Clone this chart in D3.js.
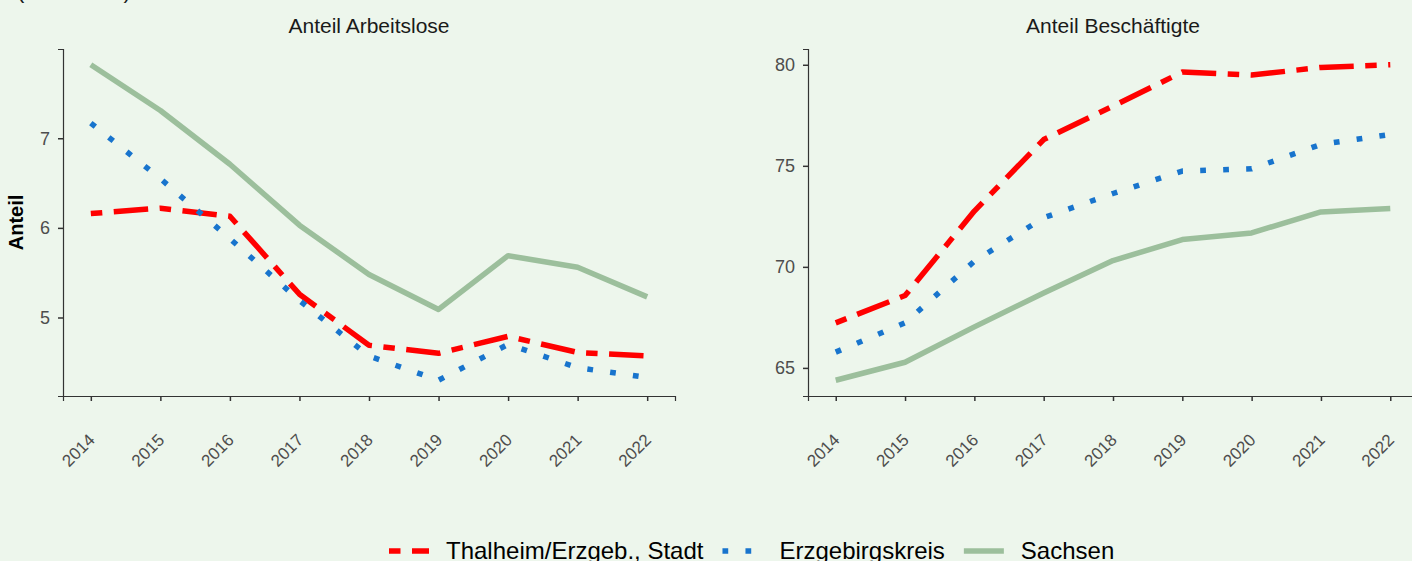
<!DOCTYPE html>
<meta charset="utf-8">
<html>
<head>
<title>Anteil Arbeitslose / Beschäftigte</title>
<script src="https://cdn.jsdelivr.net/npm/d3@7"></script>
<style>
  body { margin: 0; background: #edf6ec; }
  svg { display: block; }
  text { font-family: "Liberation Sans", Arial, Helvetica, sans-serif; }
</style>
</head>
<body>
<script>
// data
var years = [2014, 2015, 2016, 2017, 2018, 2019, 2020, 2021, 2022]
var seriesNames = ["Thalheim/Erzgeb., Stadt", "Erzgebirgskreis", "Sachsen"]

var alThalheim = [6.16, 6.22, 6.13, 5.26, 4.69, 4.60, 4.79, 4.61, 4.57]
var alKreis    = [7.17, 6.55, 5.88, 5.19, 4.57, 4.30, 4.70, 4.44, 4.33]
var alSachsen  = [7.82, 7.31, 6.71, 6.03, 5.48, 5.09, 5.69, 5.56, 5.23]

var bsThalheim = [67.23, 68.58, 72.76, 76.30, 77.95, 79.64, 79.49, 79.87, 80.00]
var bsKreis    = [65.78, 67.23, 70.28, 72.43, 73.63, 74.74, 74.85, 76.06, 76.55]
var bsSachsen  = [64.39, 65.28, 67.03, 68.71, 70.31, 71.35, 71.68, 72.72, 72.89]

var leftTicks = [5, 6, 7]
var rightTicks = [65, 70, 75, 80]

var colors = ["#ff0000", "#1874cd", "#9cbf9c"]
// twodash / dotted / solid
var dashes = ["11.5 11.5 34.5 11.5", "5.75 17.25", null]

var W = 1412, H = 561
var svg = d3.select("body").append("svg").attr("width", W).attr("height", H)
svg.append("rect").attr("width", W).attr("height", H).attr("fill", "#edf6ec")

// cut-off caption at the very top
svg.append("text").attr("x", 17).attr("y", -2)
    .attr("font-size", "22px").attr("fill", "#1a1a1a")
    .text("(in Prozent)")

var yBottom = 396, yTop = 49

function panel(x0, x1, title, sets, ticks){
    var x = d3.scaleLinear().domain([2013.6, 2022.4]).range([x0, x1])
    var all = [].concat.apply([], sets)
    var ext = d3.extent(all), pad = (ext[1] - ext[0]) * 0.05
    var y = d3.scaleLinear().domain([ext[0] - pad, ext[1] + pad]).range([yBottom, yTop])

    var g = svg.append("g")
    g.append("text").attr("x", (x0 + x1) / 2).attr("y", 33)
        .attr("text-anchor", "middle").attr("font-size", "21px").attr("fill", "#1a1a1a")
        .text(title)

    var line = d3.line().x((d, i) => x(years[i])).y(d => y(d))
    sets.forEach((s, k) => {
        g.append("path").attr("d", line(s))
            .attr("fill", "none")
            .attr("stroke", colors[k])
            .attr("stroke-width", 5.5)
            .attr("stroke-dasharray", dashes[k])
            .attr("stroke-linejoin", "round")
            .attr("stroke-linecap", "butt")
    })

    // axes
    var xa = g.append("g").attr("transform", "translate(0," + yBottom + ")")
        .call(d3.axisBottom(x).tickValues(years).tickSize(5).tickFormat(""))
    xa.select(".domain").attr("stroke", "#333").attr("stroke-width", 1.2)
    xa.selectAll(".tick line").attr("stroke", "#333").attr("stroke-width", 1.5)

    var ya = g.append("g").attr("transform", "translate(" + x0 + ",0)")
        .call(d3.axisLeft(y).tickValues(ticks).tickSize(5).tickPadding(8).tickFormat(d3.format("d")))
    ya.select(".domain").attr("stroke", "#333").attr("stroke-width", 1.2)
    ya.selectAll(".tick line").attr("stroke", "#333").attr("stroke-width", 1.5)
    ya.selectAll(".tick text").attr("font-size", "18px").attr("fill", "#4d4d4d")
        .style("font-family", "Liberation Sans, Arial, sans-serif")

    g.selectAll("text.year").data(years).enter()
        .append("text").attr("class", "year")
        .attr("transform", d => "translate(" + (x(d) + 5) + "," + (yBottom + 45) + ") rotate(-45)")
        .attr("text-anchor", "end")
        .attr("font-size", "17px").attr("fill", "#4d4d4d")
        .text(d => d)
}

panel(63, 675, "Anteil Arbeitslose", [alThalheim, alKreis, alSachsen], leftTicks)
panel(808, 1418, "Anteil Beschäftigte", [bsThalheim, bsKreis, bsSachsen], rightTicks)

svg.append("text")
    .attr("transform", "translate(23," + ((yTop + yBottom) / 2) + ") rotate(-90)")
    .attr("text-anchor", "middle").attr("font-size", "20px").attr("font-weight", "bold")
    .attr("fill", "#000")
    .text("Anteil")

// legend
var lx = 389, ly = 551
seriesNames.forEach((name, k) => {
    svg.append("line")
        .attr("x1", lx).attr("x2", lx + 40).attr("y1", ly).attr("y2", ly)
        .attr("stroke", colors[k]).attr("stroke-width", 5.5)
        .attr("stroke-dasharray", dashes[k])
    var t = svg.append("text").attr("x", lx + 57).attr("y", ly + 8)
        .attr("font-size", "24px").attr("fill", "#000")
        .text(name)
    lx = lx + 57 + t.node().getComputedTextLength() + 19
})
</script>
</body>
</html>
